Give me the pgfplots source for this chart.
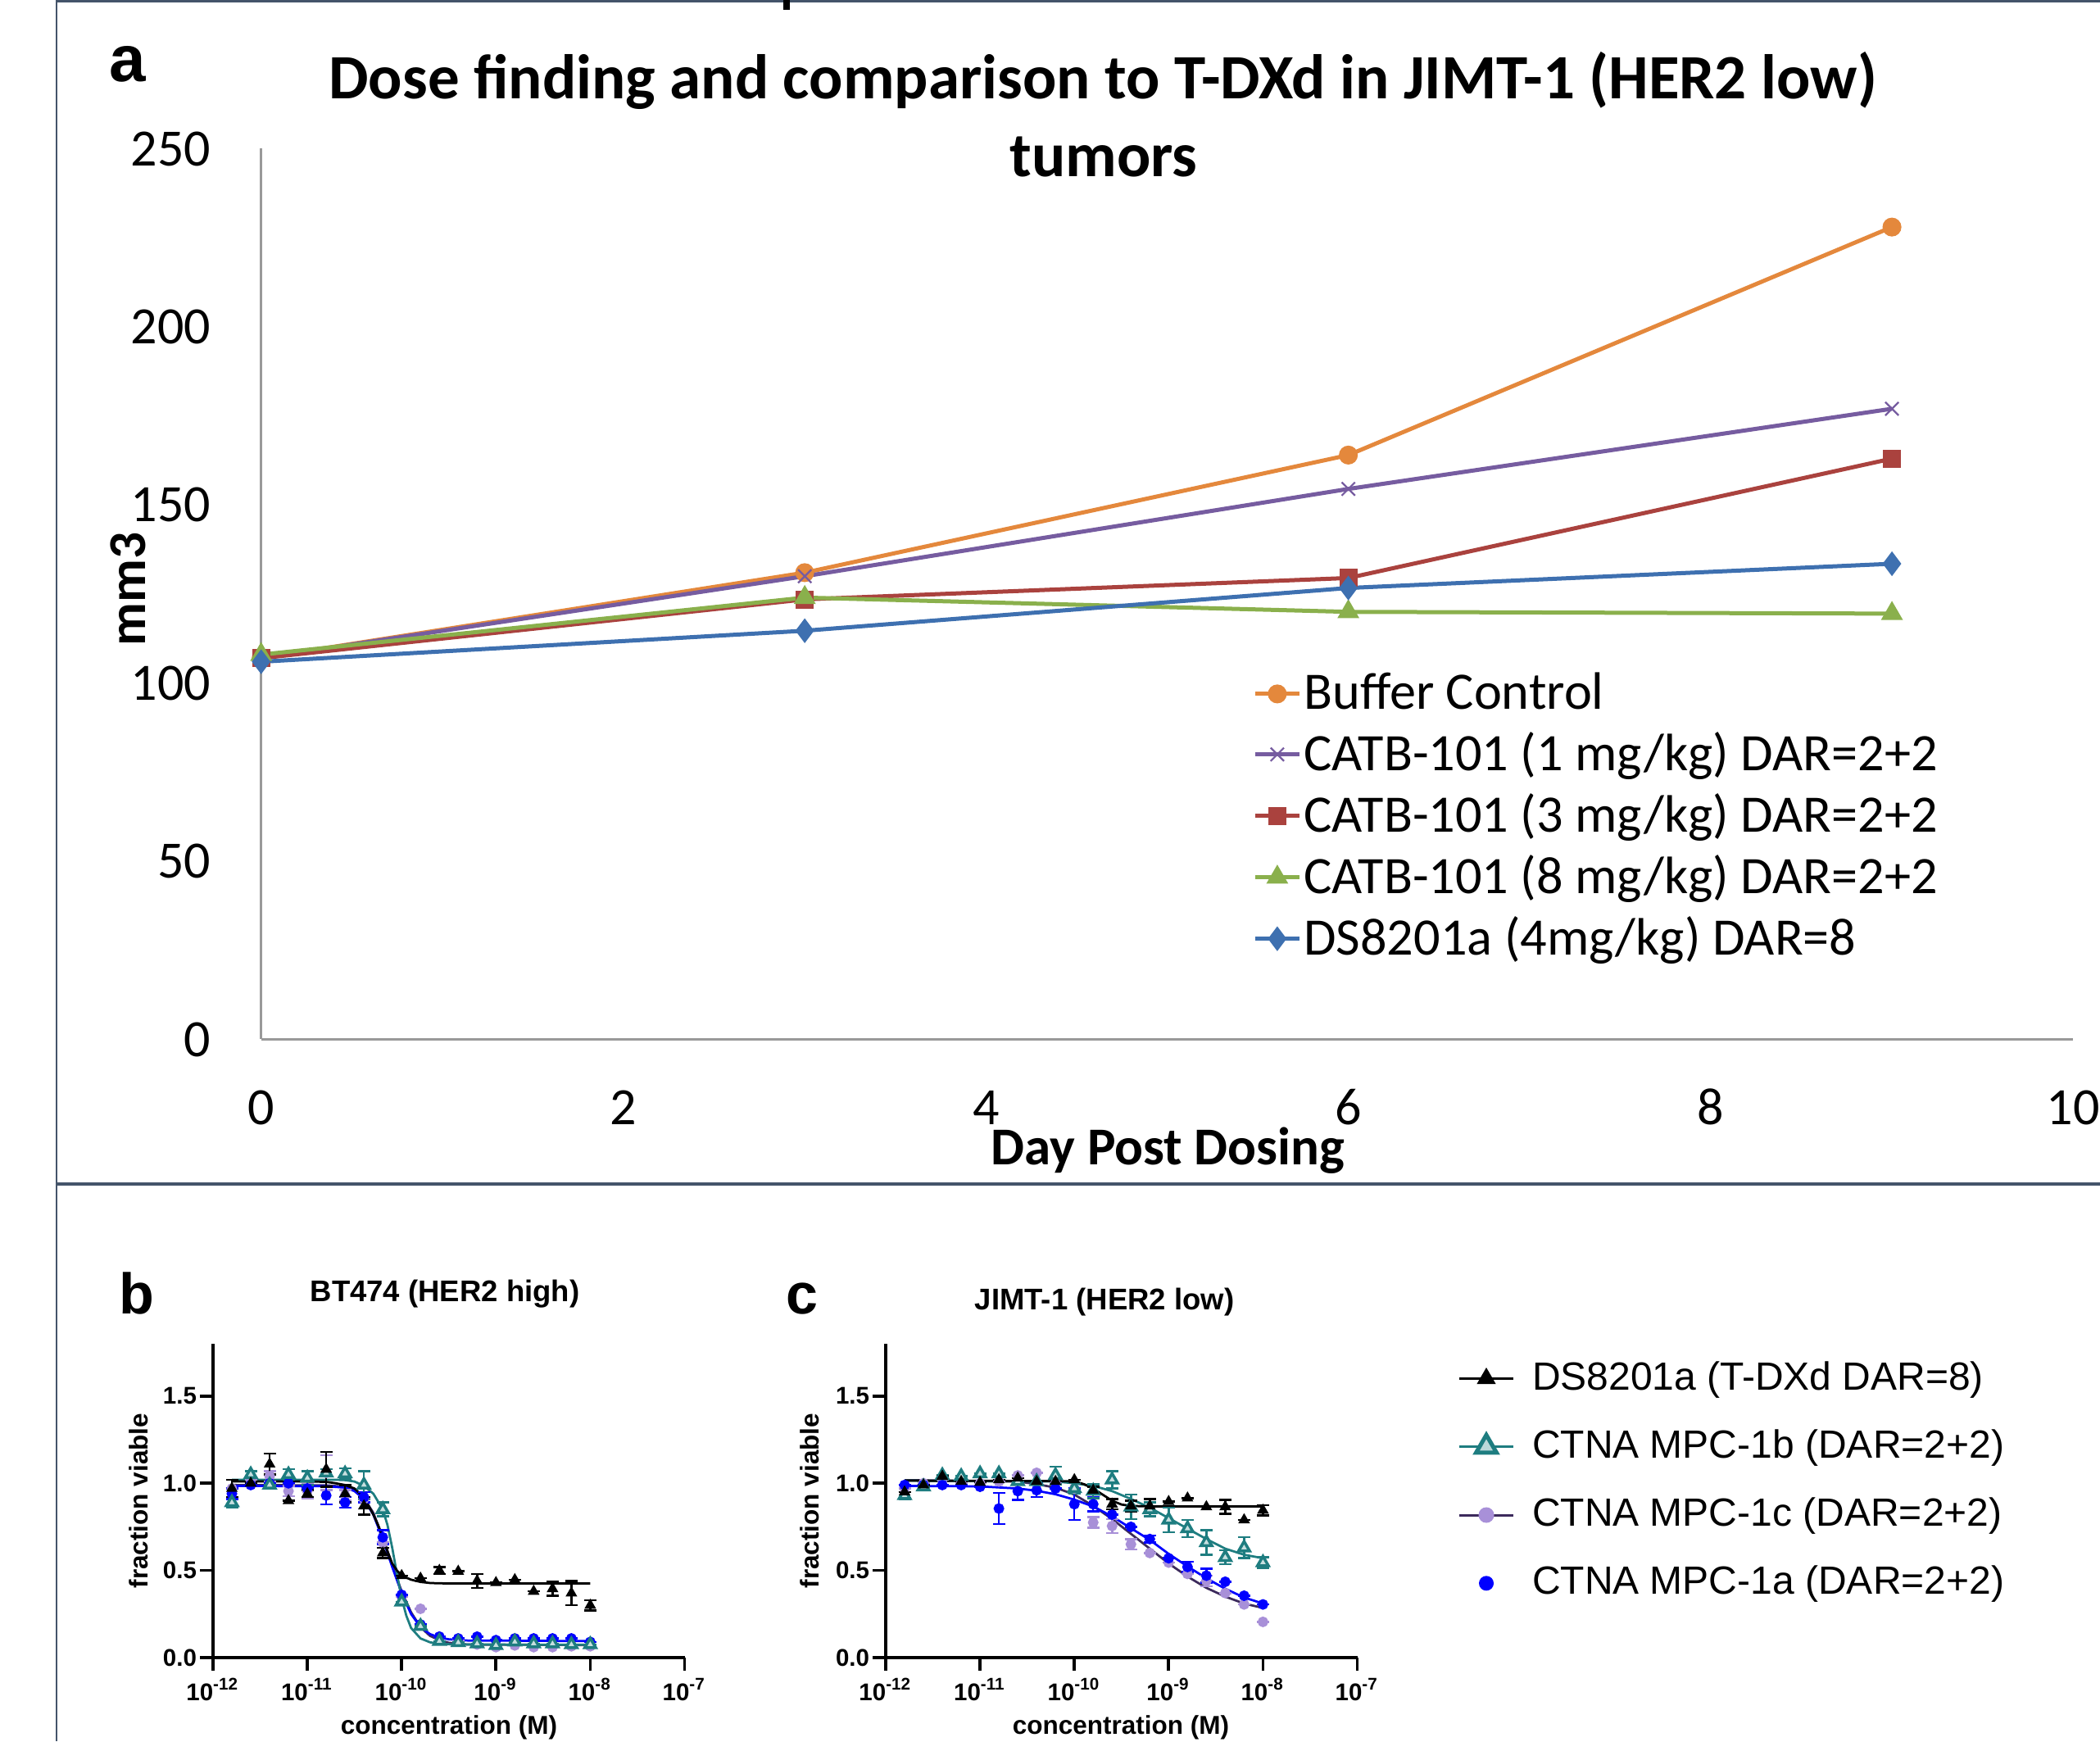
\documentclass[border=0pt]{standalone}
\usepackage{fontspec}
\setmainfont{Carlito}
\newfontfamily\arial{Liberation Sans}
\usepackage{pgfplots}
\usepackage{pgfplotstable}
\pgfplotsset{compat=1.18}
\definecolor{cOrange}{RGB}{228,136,60}
\definecolor{cPurple}{RGB}{118,92,160}
\definecolor{cRed}{RGB}{170,66,62}
\definecolor{cGreen}{RGB}{138,176,76}
\definecolor{cBlue}{RGB}{62,112,176}
\definecolor{cTeal}{RGB}{30,125,128}
\definecolor{cLav}{RGB}{168,144,216}
\definecolor{cDPur}{RGB}{60,42,92}
\definecolor{cFrame}{RGB}{68,84,106}

% ---------- panel b data (x = log10 concentration, M) ----------
\pgfplotstableread{
x y e
-11.8 0.97 0.05
-11.6 1.00 0
-11.4 1.11 0.06
-11.2 0.90 0
-11.0 0.94 0.02
-10.8 1.08 0.10
-10.6 0.94 0.05
-10.4 0.87 0.05
-10.2 0.60 0.03
-10.0 0.47 0
-9.8 0.455 0
-9.6 0.50 0.02
-9.4 0.495 0
-9.2 0.44 0.04
-9.0 0.43 0
-8.8 0.447 0
-8.6 0.38 0
-8.4 0.395 0.04
-8.2 0.37 0.07
-8.0 0.30 0.03
}\bBlackPts
\pgfplotstableread{
x y
-11.8 1.01
-11.0 1.01
-10.8 1.008
-10.7 1.0
-10.6 0.99
-10.5 0.97
-10.4 0.92
-10.3 0.82
-10.25 0.76
-10.2 0.69
-10.15 0.61
-10.1 0.54
-10.05 0.50
-10.0 0.47
-9.9 0.447
-9.8 0.434
-9.7 0.428
-9.6 0.426
-9.0 0.425
-8.0 0.425
}\bBlackFit
\pgfplotstableread{
x y e
-11.8 0.94 0.03
-11.6 0.99 0
-11.4 1.00 0
-11.2 1.00 0
-11.0 0.97 0
-10.8 0.93 0.05
-10.6 0.89 0.03
-10.4 0.92 0.03
-10.2 0.69 0.04
-10.0 0.36 0
-9.8 0.19 0
-9.6 0.12 0
-9.4 0.11 0
-9.2 0.12 0
-9.0 0.10 0
-8.8 0.11 0
-8.6 0.11 0
-8.4 0.11 0
-8.2 0.11 0
-8.0 0.09 0
}\bBluePts
\pgfplotstableread{
x y
-11.8 0.985
-10.8 0.983
-10.6 0.975
-10.5 0.955
-10.4 0.91
-10.3 0.82
-10.2 0.68
-10.1 0.52
-10.0 0.37
-9.9 0.25
-9.8 0.175
-9.7 0.135
-9.6 0.115
-9.5 0.105
-9.3 0.098
-8.0 0.095
}\bBlueFit
\pgfplotstableread{
x y e
-11.8 0.97 0
-11.6 1.02 0
-11.4 1.04 0.03
-11.2 0.955 0.03
-11.0 0.955 0.04
-10.8 1.06 0.10
-10.6 0.93 0.03
-10.4 0.91 0
-10.2 0.66 0
-10.0 0.35 0
-9.8 0.28 0
-9.6 0.12 0
-9.4 0.10 0
-9.2 0.075 0
-9.0 0.06 0
-8.8 0.07 0
-8.6 0.06 0
-8.4 0.06 0
-8.2 0.065 0
-8.0 0.065 0
}\bLavPts
\pgfplotstableread{
x y
-11.8 0.99
-10.8 0.988
-10.6 0.98
-10.5 0.96
-10.4 0.915
-10.3 0.83
-10.2 0.69
-10.1 0.53
-10.0 0.38
-9.9 0.26
-9.8 0.175
-9.7 0.125
-9.6 0.10
-9.5 0.085
-9.3 0.075
-8.0 0.072
}\bLavFit
\pgfplotstableread{
x y e
-11.8 0.89 0.03
-11.6 1.05 0.02
-11.4 0.99 0
-11.2 1.05 0.03
-11.0 1.03 0.04
-10.8 1.06 0.02
-10.6 1.055 0.03
-10.4 0.99 0.08
-10.2 0.85 0.04
-10.0 0.32 0
-9.8 0.18 0
-9.6 0.094 0
-9.4 0.087 0
-9.2 0.08 0
-9.0 0.07 0
-8.8 0.09 0
-8.6 0.08 0
-8.4 0.08 0
-8.2 0.075 0
-8.0 0.075 0
}\bTealPts
\pgfplotstableread{
x y
-11.8 1.02
-10.7 1.02
-10.6 1.018
-10.5 1.01
-10.4 0.985
-10.3 0.94
-10.2 0.85
-10.15 0.76
-10.1 0.63
-10.05 0.48
-10.0 0.34
-9.95 0.24
-9.9 0.17
-9.8 0.11
-9.7 0.088
-9.6 0.079
-9.4 0.075
-8.0 0.074
}\bTealFit
% ---------- panel c data ----------
\pgfplotstableread{
x y e
-11.8 0.95 0
-11.6 0.99 0
-11.4 1.04 0
-11.2 1.01 0
-11.0 1.005 0
-10.8 1.02 0
-10.6 1.03 0
-10.4 1.01 0
-10.2 1.01 0
-10.0 1.02 0
-9.8 0.96 0.02
-9.6 0.88 0.03
-9.4 0.87 0.03
-9.2 0.87 0.04
-9.0 0.895 0
-8.8 0.915 0
-8.6 0.865 0
-8.4 0.865 0.04
-8.2 0.79 0
-8.0 0.845 0.03
}\cBlackPts
\pgfplotstableread{
x y
-11.8 1.015
-10.0 1.012
-9.9 0.995
-9.8 0.97
-9.7 0.935
-9.6 0.90
-9.5 0.878
-9.4 0.87
-9.2 0.867
-8.0 0.867
}\cBlackFit
\pgfplotstableread{
x y e
-11.8 0.99 0
-11.6 0.99 0
-11.4 0.99 0
-11.2 0.99 0
-11.0 0.98 0
-10.8 0.855 0.09
-10.6 0.955 0.05
-10.4 0.96 0.04
-10.2 0.97 0
-10.0 0.88 0.09
-9.8 0.88 0.04
-9.6 0.82 0
-9.4 0.75 0
-9.2 0.68 0.02
-9.0 0.57 0
-8.8 0.52 0.03
-8.6 0.47 0.04
-8.4 0.435 0
-8.2 0.355 0
-8.0 0.305 0
}\cBluePts
\pgfplotstableread{
x y
-11.8 0.985
-11.0 0.982
-10.6 0.97
-10.4 0.957
-10.2 0.937
-10.0 0.906
-9.8 0.867
-9.6 0.81
-9.4 0.742
-9.2 0.675
-9.0 0.595
-8.8 0.523
-8.6 0.455
-8.4 0.395
-8.2 0.345
-8.0 0.31
}\cBlueFit
\pgfplotstableread{
x y e
-11.8 0.97 0
-11.6 1.00 0
-11.4 1.02 0
-11.2 1.00 0
-11.0 1.00 0
-10.8 1.01 0
-10.6 1.045 0
-10.4 1.06 0
-10.2 1.00 0
-10.0 0.97 0
-9.8 0.775 0.03
-9.6 0.755 0.04
-9.4 0.65 0.03
-9.2 0.60 0
-9.0 0.545 0
-8.8 0.48 0
-8.6 0.44 0.03
-8.4 0.37 0
-8.2 0.305 0
-8.0 0.205 0
}\cLavPts
\pgfplotstableread{
x y
-11.8 1.018
-10.6 1.01
-10.4 0.995
-10.2 0.975
-10.0 0.935
-9.8 0.87
-9.6 0.795
-9.4 0.71
-9.2 0.625
-9.0 0.54
-8.8 0.465
-8.6 0.40
-8.4 0.35
-8.2 0.31
-8.0 0.285
}\cLavFit
\pgfplotstableread{
x y e
-11.8 0.93 0.02
-11.6 0.98 0
-11.4 1.045 0
-11.2 1.04 0
-11.0 1.055 0
-10.8 1.055 0
-10.6 1.01 0
-10.4 1.01 0
-10.2 1.045 0.05
-10.0 0.97 0.03
-9.8 0.955 0.04
-9.6 1.02 0.05
-9.4 0.865 0.07
-9.2 0.85 0.04
-9.0 0.79 0.07
-8.8 0.74 0.05
-8.6 0.66 0.07
-8.4 0.575 0.04
-8.2 0.63 0.06
-8.0 0.545 0.03
}\cTealPts
\pgfplotstableread{
x y
-11.8 1.015
-10.2 1.01
-10.0 1.00
-9.8 0.985
-9.6 0.955
-9.4 0.91
-9.2 0.86
-9.0 0.80
-8.8 0.74
-8.6 0.68
-8.4 0.625
-8.2 0.59
-8.0 0.57
}\cTealFit

\pgfplotsset{
 dr/.style={
  scale only axis, width=115.1pt, height=76.6pt, anchor=south west,
  xmin=-12, xmax=-7, ymin=0, ymax=1.8,
  axis lines*=left,
  axis line style={line width=0.75pt, black},
  xtick={-12,-11,-10,-9,-8,-7},
  xticklabels={10\textsuperscript{-12},10\textsuperscript{-11},10\textsuperscript{-10},10\textsuperscript{-9},10\textsuperscript{-8},10\textsuperscript{-7}},
  ytick={0,0.5,1,1.5},
  yticklabels={0.0,0.5,1.0,1.5},
  tick align=outside, major tick length=3.2pt,
  every tick/.style={black, line width=0.75pt},
  tick label style={font=\arial\bfseries\fontsize{5.9}{7}\selectfont, inner sep=0pt},
  xticklabel style={anchor=base, yshift=-7.3pt},
  yticklabel style={anchor=east, xshift=-0.6pt},
  clip=false,
 },
 pts/.style={only marks, error bars/y dir=both, error bars/y explicit,
   error bars/error bar style={line width=0.5pt},
   error bars/error mark options={rotate=90, mark size=1.5pt, line width=0.5pt}},
 fit/.style={no marks, line width=0.55pt},
 blk/.style={black, mark=triangle*, mark size=1.25pt},
 tea/.style={cTeal, mark=triangle*, mark size=1.55pt, mark options={draw=cTeal, fill=cTeal!25, line width=0.7pt}},
 lav/.style={cLav, mark=*, mark size=1.1pt, mark options={draw=cLav, fill=cLav}},
 blu/.style={blue, mark=*, mark size=1.1pt},
}

\begin{document}
\begin{tikzpicture}
\useasboundingbox (0,0) rectangle (512.6pt,425pt);
% frame decorations
\draw[cFrame, line width=0.4pt] (13.8pt,0pt) -- (13.8pt,425pt);
\draw[cFrame, line width=0.6pt] (13.8pt,424.7pt) -- (512.6pt,424.7pt);
\draw[cFrame, line width=0.9pt] (13.8pt,136pt) -- (512.6pt,136pt);
\fill[black] (191.2pt,422.6pt) rectangle (192.8pt,425pt);

% ================= panel a =================
\begin{axis}[
  at={(63.74pt,171.3pt)}, anchor=south west,
  scale only axis, width=442.3pt, height=217.4pt,
  xmin=0, xmax=10, ymin=0, ymax=250,
  axis lines*=left,
  axis line style={black!40, line width=0.5pt},
  xtick={0,2,4,6,8,10}, ytick={0,50,100,150,200,250},
  major tick length=0pt,
  /pgf/number format/assume math mode=true,
  tick label style={font=\fontsize{12.8}{15}\selectfont, inner sep=0pt},
  xticklabel style={anchor=base, yshift=-20.8pt},
  yticklabel style={anchor=east, xshift=-12.1pt},
  clip=false,
  legend style={at={(0.547,0.4155)}, anchor=north west, draw=none, fill=none,
    inner sep=0pt, font=\fontsize{12.85}{15}\selectfont, row sep=2.9pt,
    nodes={inner sep=0.6pt}},
  legend cell align=left,
  legend image code/.code={\draw[mark repeat=2,mark phase=2] plot coordinates {(0pt,0pt)(5.4pt,0pt)(10.8pt,0pt)};},
]
\addplot[cOrange, line width=1pt, mark=*, mark size=1.8pt, mark options={solid}] coordinates {(0,107) (3,131) (6,164) (9,228)};
\addlegendentry{Buffer Control}
\addplot[cPurple, line width=1pt, mark=x, mark size=2.3pt, mark options={solid, line width=0.45pt}] coordinates {(0,107) (3,130) (6,154.5) (9,177)};
\addlegendentry{CATB-101 (1 mg/kg) DAR=2+2}
\addplot[cRed, line width=1pt, mark=square*, mark size=1.7pt, mark options={solid}] coordinates {(0,107) (3,123.5) (6,129.5) (9,163)};
\addlegendentry{CATB-101 (3 mg/kg) DAR=2+2}
\addplot[cGreen, line width=1pt, mark=triangle*, mark size=2.1pt, mark options={solid}] coordinates {(0,108) (3,124) (6,120) (9,119.5)};
\addlegendentry{CATB-101 (8 mg/kg) DAR=2+2}
\addplot[cBlue, line width=1pt, mark=diamond*, mark size=2.2pt, mark options={solid}] coordinates {(0,106) (3,114.7) (6,126.7) (9,133.5)};
\addlegendentry{DS8201a (4mg/kg) DAR=8}
\end{axis}
\node[font=\bfseries\fontsize{15.4}{19}\selectfont, anchor=base] at (269.2pt,400.8pt) {Dose finding and comparison to T-DXd in JIMT-1 (HER2 low)};
\node[font=\bfseries\fontsize{15.4}{19}\selectfont, anchor=base] at (269.4pt,381.9pt) {tumors};
\node[font=\arial\bfseries\fontsize{16}{19}\selectfont, anchor=base] at (31.1pt,405pt) {a};
\node[font=\bfseries\fontsize{13}{16}\selectfont, anchor=base] at (285.1pt,140.6pt) {Day Post Dosing};
\node[font=\bfseries\fontsize{13}{16}\selectfont, anchor=base, rotate=90] at (35.4pt,281.2pt) {mm3};

% ================= panel b =================
\begin{axis}[dr, at={(52pt,20.4pt)}]
\addplot[fit, cDPur] table[x=x,y=y] {\bLavFit};
\addplot[fit, blue] table[x=x,y=y] {\bBlueFit};
\addplot[fit, cTeal] table[x=x,y=y] {\bTealFit};
\addplot[fit, black] table[x=x,y=y] {\bBlackFit};
\addplot[pts, lav] table[x=x,y=y,y error=e] {\bLavPts};
\addplot[pts, blu] table[x=x,y=y,y error=e] {\bBluePts};
\addplot[pts, tea] table[x=x,y=y,y error=e] {\bTealPts};
\addplot[pts, blk] table[x=x,y=y,y error=e] {\bBlackPts};
\end{axis}
\node[font=\arial\bfseries\fontsize{14}{17}\selectfont, anchor=base] at (33.3pt,104.2pt) {b};
\node[font=\arial\bfseries\fontsize{7.3}{9}\selectfont, anchor=base] at (108.6pt,107.2pt) {BT474 (HER2 high)};
\node[font=\arial\bfseries\fontsize{6.3}{8}\selectfont, anchor=base, rotate=90] at (36.1pt,58.7pt) {fraction viable};
\node[font=\arial\bfseries\fontsize{6.3}{8}\selectfont, anchor=base] at (109.6pt,1.8pt) {concentration (M)};

% ================= panel c =================
\begin{axis}[dr, at={(216.2pt,20.4pt)},
  legend style={at={(1.212,0.96)}, anchor=north west, draw=none, fill=none,
    inner sep=0pt, font=\arial\fontsize{9.6}{11.5}\selectfont, row sep=6.2pt,
    nodes={inner sep=1pt},
    /tikz/every odd column/.append style={column sep=3.3pt}},
  legend cell align=left,
]
\addplot[fit, cDPur, forget plot] table[x=x,y=y] {\cLavFit};
\addplot[fit, blue, forget plot] table[x=x,y=y] {\cBlueFit};
\addplot[fit, cTeal, forget plot] table[x=x,y=y] {\cTealFit};
\addplot[fit, black, forget plot] table[x=x,y=y] {\cBlackFit};
\addplot[pts, lav, forget plot] table[x=x,y=y,y error=e] {\cLavPts};
\addplot[pts, blu, forget plot] table[x=x,y=y,y error=e] {\cBluePts};
\addplot[pts, tea, forget plot] table[x=x,y=y,y error=e] {\cTealPts};
\addplot[pts, blk, forget plot] table[x=x,y=y,y error=e] {\cBlackPts};
\addlegendimage{black, line width=0.6pt, mark=triangle*, mark size=2.1pt, mark options={solid},
  legend image code/.code={\draw[mark repeat=2,mark phase=2] plot coordinates {(0pt,0pt)(6.6pt,0pt)(13.2pt,0pt)};}}
\addlegendentry{DS8201a (T-DXd DAR=8)}
\addlegendimage{cTeal, line width=0.6pt, mark=triangle*, mark size=2.9pt, mark options={solid, fill=cTeal!30, line width=1pt},
  legend image code/.code={\draw[mark repeat=2,mark phase=2] plot coordinates {(0pt,0pt)(6.6pt,0pt)(13.2pt,0pt)};}}
\addlegendentry{CTNA MPC-1b (DAR=2+2)}
\addlegendimage{cDPur, line width=0.6pt, mark=*, mark size=1.6pt, mark options={solid, fill=cLav, draw=cLav},
  legend image code/.code={\draw[mark repeat=2,mark phase=2] plot coordinates {(0pt,0pt)(6.6pt,0pt)(13.2pt,0pt)};}}
\addlegendentry{CTNA MPC-1c (DAR=2+2)}
\addlegendimage{blue, mark=*, mark size=1.6pt,
  legend image code/.code={\draw plot coordinates {(6.6pt,0pt)};}}
\addlegendentry{CTNA MPC-1a (DAR=2+2)}
\end{axis}
\node[font=\arial\bfseries\fontsize{14}{17}\selectfont, anchor=base] at (195.8pt,104.2pt) {c};
\node[font=\arial\bfseries\fontsize{7.3}{9}\selectfont, anchor=base] at (269.6pt,105.3pt) {JIMT-1 (HER2 low)};
\node[font=\arial\bfseries\fontsize{6.3}{8}\selectfont, anchor=base, rotate=90] at (199.9pt,58.7pt) {fraction viable};
\node[font=\arial\bfseries\fontsize{6.3}{8}\selectfont, anchor=base] at (273.6pt,1.8pt) {concentration (M)};
\end{tikzpicture}
\end{document}
